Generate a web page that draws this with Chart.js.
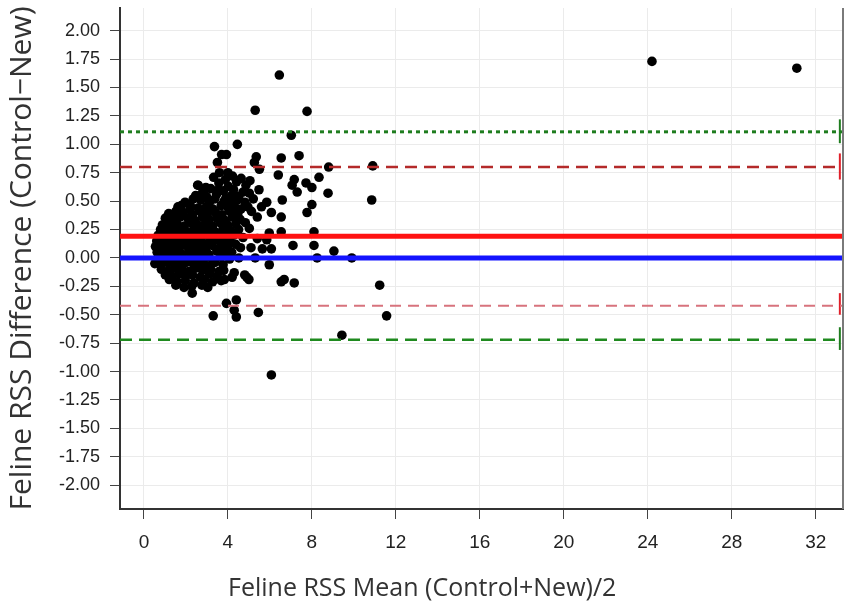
<!DOCTYPE html>
<html>
<head>
<meta charset="utf-8">
<script src="https://cdn.jsdelivr.net/npm/chart.js@4.4.0/dist/chart.umd.min.js"></script>
<style>
  html, body { margin: 0; padding: 0; background: #fff; }
  #wrap { width: 851px; height: 610px; }
</style>
</head>
<body>
<div id="wrap"><canvas id="blandAltman" width="851" height="610"></canvas></div>
<script>
// axis ranges and ticks
const xAxisMin = -1.14, xAxisMax = 33.3;
const yAxisMin = -2.21, yAxisMax = 2.2;
const xTickVals = [0, 4, 8, 12, 16, 20, 24, 28, 32];
const yTickVals = [-2, -1.75, -1.5, -1.25, -1, -0.75, -0.5, -0.25, 0, 0.25, 0.5, 0.75, 1, 1.25, 1.5, 1.75, 2];
const xTitleText = 'Feline RSS Mean (Control+New)/2';
const yTitleText = 'Feline RSS Difference (Control−New)';

// reference lines (bias, limits of agreement, CI)
const zeroLine = 0;
const biasMean = 0.19;
const upperLoA = 0.80;
const lowerLoA = -0.42;
const upperCI = 1.11;
const lowerCI = -0.72;

// small brackets on the right edge
const bracketX = 33.15;
const upperCIBracket = [1.01, 1.22];
const upperLoABracket = [0.69, 0.92];
const lowerLoABracket = [-0.50, -0.31];
const lowerCIBracket = [-0.81, -0.61];

// [mean, difference] pairs
const coreHighPts = [
  [3.32,0.71],[3.88,0.69],[4.22,0.72],[4.63,0.70],[5.05,0.68],
  [2.58,0.64],[3.57,0.66],[4.02,0.63],[4.41,0.67],[4.86,0.64],[2.95,0.62],
  [3.18,0.61],[3.79,0.59],[4.27,0.60],[4.72,0.58],[5.48,0.60],[5.02,0.57],[3.55,0.60],
  [2.47,0.55],[2.98,0.54],[3.46,0.56],[3.91,0.53],[4.18,0.55],[4.52,0.54],[5.21,0.52],[2.8,0.58],
  [1.96,0.49],[2.71,0.51],[3.12,0.49],[3.38,0.52],[3.82,0.50],[4.08,0.48],[4.43,0.51],[4.81,0.49],[2.35,0.52],
  [1.62,0.45],[2.21,0.46],[2.58,0.44],[2.97,0.45],[3.29,0.43],[3.68,0.46],[4.01,0.44],[4.33,0.45],[4.62,0.43],[4.95,0.45],[1.78,0.46],
  [1.18,0.39],[1.52,0.41],[1.88,0.40],[2.31,0.38],[2.66,0.41],[3.02,0.39],[3.41,0.40],[3.72,0.38],[4.09,0.41],[4.47,0.39],[5.12,0.41],[2.2,0.43],
  [1.02,0.35],[1.37,0.34],[1.71,0.36],[2.08,0.35],[2.43,0.33],[2.79,0.36],[3.11,0.34],[3.48,0.35],[3.86,0.33],[4.21,0.36],[4.58,0.34],[4.83,0.31],[1.45,0.37],
  [0.88,0.29],[1.21,0.31],[1.58,0.30],[1.92,0.28],[2.23,0.31],[2.57,0.29],[2.91,0.30],[3.27,0.28],[3.62,0.31],[3.98,0.29],[4.38,0.30],[5.02,0.26],
  [0.79,0.25],[1.08,0.24],[1.41,0.26],[1.73,0.25],[2.04,0.23],[2.38,0.26],[2.69,0.24],[3.04,0.25],[3.39,0.23],[3.77,0.26],[4.12,0.24],[4.51,0.25]
];

const coreLowPts = [
  [0.68,0.20],[0.97,0.19],[1.29,0.21],[1.61,0.20],[1.88,0.18],[2.19,0.21],[2.52,0.19],[2.86,0.20],[3.19,0.18],[3.58,0.21],[3.91,0.19],[4.28,0.20],[4.72,0.18],
  [0.61,0.15],[0.92,0.14],[1.22,0.16],[1.49,0.15],[1.81,0.13],[2.12,0.16],[2.41,0.14],[2.73,0.15],[3.08,0.13],[3.42,0.16],[3.71,0.14],[4.09,0.15],
  [0.55,0.10],[0.83,0.09],[1.12,0.11],[1.39,0.10],[1.68,0.08],[1.99,0.11],[2.31,0.09],[2.62,0.10],[2.93,0.08],[3.24,0.11],[3.61,0.09],[3.98,0.10],[4.37,0.12],
  [0.63,0.05],[0.91,0.04],[1.19,0.06],[1.52,0.05],[1.83,0.03],[2.14,0.06],[2.43,0.04],[2.77,0.05],[3.09,0.03],[3.47,0.06],[3.82,0.04],[4.18,0.05],
  [0.72,0.00],[1.01,-0.01],[1.31,0.01],[1.63,0.00],[1.92,-0.02],[2.23,0.01],[2.54,-0.01],[2.88,0.00],[3.28,-0.02],[3.66,0.01],[4.08,-0.01],[4.52,0.00],
  [0.52,-0.05],[0.81,-0.06],[1.09,-0.04],[1.42,-0.05],[1.71,-0.07],[2.02,-0.04],[2.37,-0.06],[2.68,-0.05],[3.01,-0.07],[3.39,-0.04],[3.77,-0.06],
  [0.83,-0.10],[1.18,-0.11],[1.49,-0.09],[1.82,-0.10],[2.13,-0.12],[2.47,-0.09],[2.79,-0.11],[3.18,-0.10],[3.57,-0.12],
  [1.02,-0.15],[1.33,-0.16],[1.68,-0.14],[1.99,-0.16],[2.31,-0.15],[2.69,-0.17],[3.12,-0.14],[3.49,-0.16],
  [1.21,-0.19],[1.59,-0.21],[1.97,-0.20],[2.38,-0.22],[2.88,-0.19],[3.27,-0.21],[3.68,-0.20],
  [1.52,-0.24],[1.91,-0.26],[2.28,-0.25],[2.76,-0.24],[3.04,-0.26],[2.3,-0.31]
];

const spreadPts = [
  [24.2,1.73],[31.1,1.67],[6.45,1.61],[5.3,1.30],[7.77,1.29],[7.02,1.08],
  [3.36,0.98],[4.45,1.00],[3.7,0.91],[3.93,0.91],[5.35,0.89],[5.26,0.84],[5.5,0.78],
  [3.5,0.84],[3.6,0.75],[4.0,0.75],[2.56,0.64],
  [6.54,0.88],[7.39,0.90],[8.8,0.80],[10.9,0.81],[6.4,0.73],[8.34,0.71],
  [7.06,0.64],[7.16,0.69],[7.72,0.66],[8.0,0.62],[7.3,0.58],[8.77,0.57],[10.85,0.51],
  [6.59,0.51],[8.0,0.47],[7.77,0.40],[6.54,0.36],[6.54,0.23],[8.1,0.23],
  [5.6,0.45],[5.85,0.49],[6.07,0.40],[5.4,0.36],[5.97,0.22],[5.4,0.17],[5.85,0.16],
  [7.1,0.11],[8.1,0.11],[9.05,0.06],[8.25,0.00],[9.9,0.00],[5.3,0.00],
  [5.1,0.09],[5.64,0.08],[6.07,0.08],[4.6,0.09],[5.97,-0.06],
  [6.54,-0.21],[6.68,-0.19],[7.16,-0.22],[11.23,-0.24],
  [4.9,-0.17],[5.0,-0.19],[4.8,-0.15],[3.83,-0.19],[4.2,-0.17],[3.8,-0.11],[4.3,-0.13],
  [3.93,-0.40],[4.4,-0.37],[4.3,-0.46],[4.4,-0.52],[3.3,-0.51],[5.45,-0.48],
  [11.56,-0.51],[9.43,-0.68],[6.07,-1.03]
];

const toXY = p => ({ x: p[0], y: p[1] });
const scatterData = coreHighPts.concat(coreLowPts, spreadPts).map(toXY);

function hLine(yVal, color, width, dash) {
  return {
    type: 'line',
    data: [{ x: xAxisMin, y: yVal }, { x: xAxisMax, y: yVal }],
    borderColor: color,
    borderWidth: width,
    borderDash: dash,
    pointRadius: 0,
    showLine: true,
    fill: false
  };
}

function bracket(range, color) {
  return {
    type: 'line',
    data: [{ x: bracketX, y: range[0] }, { x: bracketX, y: range[1] }],
    borderColor: color,
    borderWidth: 2,
    pointRadius: 0,
    showLine: true,
    fill: false
  };
}

// right frame line + x axis title (title sits left of centre in the original)
const frameAndTitle = {
  id: 'frameAndTitle',
  afterDraw(chart) {
    const { ctx, chartArea } = chart;
    ctx.save();
    ctx.strokeStyle = '#7a7a7a';
    ctx.lineWidth = 2;
    ctx.beginPath();
    ctx.moveTo(chartArea.right, chartArea.top);
    ctx.lineTo(chartArea.right, chartArea.bottom);
    ctx.stroke();
    ctx.font = '25px "Open Sans"';
    ctx.fillStyle = '#333';
    ctx.textAlign = 'left';
    ctx.textBaseline = 'alphabetic';
    ctx.fillText(xTitleText, 228, 596);
    ctx.restore();
  }
};

const ctx = document.getElementById('blandAltman').getContext('2d');

new Chart(ctx, {
  type: 'scatter',
  data: {
    datasets: [
      hLine(biasMean, '#ff1212', 5, []),
      hLine(zeroLine, '#1414ff', 5, []),
      hLine(upperCI, '#1f7d1f', 3, [4, 4]),
      hLine(upperLoA, '#b42a2a', 2.5, [12, 7]),
      hLine(lowerLoA, '#d7737d', 2, [11, 7]),
      hLine(lowerCI, '#1f8a1f', 2.5, [12, 7]),
      bracket(upperCIBracket, '#1f7d1f'),
      bracket(upperLoABracket, '#e0202a'),
      bracket(lowerLoABracket, '#e0202a'),
      bracket(lowerCIBracket, '#1f7d1f'),
      {
        label: 'Diferencias',
        data: scatterData,
        backgroundColor: '#000',
        borderWidth: 0,
        pointRadius: 4.8,
        pointHoverRadius: 4.8
      }
    ]
  },
  options: {
    responsive: false,
    animation: false,
    events: [],
    layout: { padding: { top: 8, right: 8, left: 0, bottom: 0 } },
    plugins: {
      legend: { display: false },
      tooltip: { enabled: false }
    },
    scales: {
      x: {
        type: 'linear',
        min: xAxisMin,
        max: xAxisMax,
        afterBuildTicks: s => { s.ticks = xTickVals.map(v => ({ value: v })); },
        afterFit: s => { s.height = 101; s.paddingLeft = 0; s.paddingRight = 0; },
        grid: { color: '#ebebeb', tickColor: '#444', tickLength: 10, lineWidth: 1 },
        border: { display: true, color: '#333', width: 2 },
        ticks: {
          color: '#222',
          padding: 12,
          maxRotation: 0,
          font: { family: 'Liberation Sans', size: 19 },
          callback: v => String(v)
        },
        title: { display: false }
      },
      y: {
        type: 'linear',
        min: yAxisMin,
        max: yAxisMax,
        afterBuildTicks: s => { s.ticks = yTickVals.map(v => ({ value: v })); },
        afterFit: s => { s.width = 120; s.paddingTop = 0; s.paddingBottom = 0; },
        grid: { color: '#ebebeb', tickColor: '#444', tickLength: 10, lineWidth: 1 },
        border: { display: true, color: '#333', width: 2 },
        ticks: {
          color: '#222',
          padding: 10,
          font: { family: 'Liberation Sans', size: 18 },
          callback: v => Number(v).toFixed(2)
        },
        title: {
          display: true,
          text: yTitleText,
          color: '#333',
          font: { family: 'Open Sans', size: 30 },
          padding: { top: 4, bottom: 0 }
        }
      }
    }
  },
  plugins: [frameAndTitle]
});
</script>
</body>
</html>
